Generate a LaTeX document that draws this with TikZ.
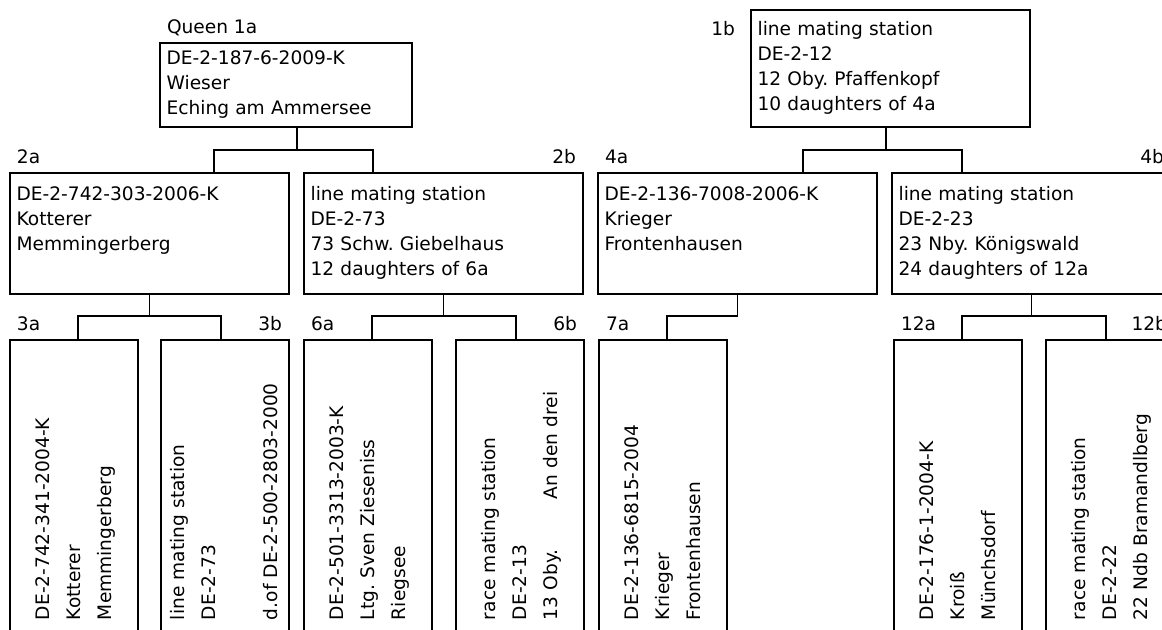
\documentclass[tikz,border=0pt]{standalone}
\usepackage{fontspec}
\setmainfont{DejaVu Sans}
\usepackage{tikz}
\usetikzlibrary{calc}
\usetikzlibrary{positioning}
\frenchspacing
\tikzstyle{pbox} = [rectangle, draw=black, line width=0.8pt, outer sep=0pt, anchor=north west, align=left, inner xsep=3.3pt, font=\fontsize{9.3}{12.5}\selectfont, execute at begin node=\strut, execute at end node=\strut]
\tikzstyle{topbox} = [pbox, inner ysep=2.25pt, text width=119.4pt]
\tikzstyle{midbox} = [pbox, inner ysep=5.25pt, text width=132.9pt]
\tikzstyle{leafbox} = [rectangle, draw=black, line width=0.8pt, outer sep=0pt, rotate=90, anchor=north east, align=left, text width=125pt, inner xsep=15pt, inner ysep=0pt, minimum height=64pt, font=\fontsize{9.3}{15.5}\selectfont, execute at begin node=\strut, execute at end node=\strut]
\tikzstyle{lbl} = [inner xsep=3.3pt, inner ysep=4.5pt, text depth=0pt, font=\fontsize{9.3}{12.5}\selectfont]
\tikzstyle{link} = [line width=0.8pt]

\begin{document}
\begin{tikzpicture}[x=0.5pt, y=-0.5pt]
    \useasboundingbox (0,0) rectangle (1162,630);

    % queen and her mating station
    \node (q1a) [topbox] at (160,43) {DE-2-187-6-2009-K\\Wieser\\Eching am Ammersee};
    \node (q1b) [topbox, text width=132.9pt, minimum height=58.5pt] at (751,10) {line mating station\\DE-2-12\\12 Oby. Pfaffenkopf\\10 daughters of 4a};

    % second row
    \node (q2a) [midbox] at (10,173) {DE-2-742-303-2006-K\\Kotterer\\Memmingerberg\\\mbox{}};
    \node (q2b) [midbox, right=7.5pt of q2a] {line mating station\\DE-2-73\\73 Schw. Giebelhaus\\12 daughters of 6a};
    \node (q4a) [midbox, right=7.5pt of q2b] {DE-2-136-7008-2006-K\\Krieger\\Frontenhausen\\\mbox{}};
    \node (q4b) [midbox, right=7.5pt of q4a] {line mating station\\DE-2-23\\23 Nby. Königswald\\24 daughters of 12a};

    % third row, turned on its side
    \node (q3a) [leafbox] at (10,340) {DE-2-742-341-2004-K\\Kotterer\\Memmingerberg};
    \node (q3b) [leafbox] at (161,340) {line mating station\\DE-2-73\\\mbox{}\\d.of DE-2-500-2803-2000};
    \node (q6a) [leafbox] at (304,340) {DE-2-501-3313-2003-K\\Ltg. Sven Zieseniss\\Riegsee};
    \node (q6b) [leafbox] at (456,340) {race mating station\\DE-2-13\\13 Oby.\hspace{22pt} An den drei};
    \node (q7a) [leafbox] at (599,340) {DE-2-136-6815-2004\\Krieger\\Frontenhausen};
    \node (q12a) [leafbox] at (894,340) {DE-2-176-1-2004-K\\Kroiß\\Münchsdorf};
    \node (q12b) [leafbox] at (1046,340) {race mating station\\DE-2-22\\22 Ndb Bramandlberg};

    % labels
    \node (l1a) [lbl, above right=0pt of q1a.north west] {Queen 1a};
    \node (l1b) [lbl, anchor=base east] at ([xshift=-4.5pt,yshift=-13pt]q1b.north west) {1b};
    \node (l2a) [lbl, above right=0pt of q2a.north west] {2a};
    \node (l2b) [lbl, above left=0pt of q2b.north east] {2b};
    \node (l4a) [lbl, above right=0pt of q4a.north west] {4a};
    \node (l4b) [lbl, above left=0pt of q4b.north east] {4b};
    \node (l3a) [lbl, above right=0pt of q3a.north east] {3a};
    \node (l3b) [lbl, above left=0pt of q3b.south east] {3b};
    \node (l6a) [lbl, above right=0pt of q6a.north east] {6a};
    \node (l6b) [lbl, above left=0pt of q6b.south east] {6b};
    \node (l7a) [lbl, above right=0pt of q7a.north east] {7a};
    \node (l12a) [lbl, above right=0pt of q12a.north east] {12a};
    \node (l12b) [lbl, above left=0pt of q12b.south east] {12b};

    % first fork
    \coordinate (j1a) at (297,150);
    \coordinate (b1a) at (214,150);
    \coordinate (c1a) at (373,150);
    \draw [link] (q1a.south -| j1a) -- (j1a);
    \draw [link] (q2a.north -| b1a) -- (b1a) -- (c1a) -- (q2b.north -| c1a);

    \coordinate (j1b) at (886,150);
    \coordinate (b1b) at (803,150);
    \coordinate (c1b) at (962,150);
    \draw [link] (q1b.south -| j1b) -- (j1b);
    \draw [link] (q4a.north -| b1b) -- (b1b) -- (c1b) -- (q4b.north -| c1b);

    % second forks
    \draw [link] (q2a.south) -- ++(0,22) coordinate (j2a);
    \draw [link] ([xshift=2pt]q3a.east) |- (j2a) -| ([xshift=-2pt]q3b.east);
    \draw [link] (q2b.south) -- ++(0,22) coordinate (j2b);
    \draw [link] ([xshift=2pt]q6a.east) |- (j2b) -| ([xshift=-2pt]q6b.east);
    \draw [link] (q4a.south) -- ++(0,22) -| ([xshift=2pt]q7a.east);
    \draw [link] (q4b.south) -- ++(0,22) coordinate (j4b);
    \draw [link] ([xshift=2pt]q12a.east) |- (j4b) -| ([xshift=-2pt]q12b.east);

    \end{tikzpicture}
\end{document}
